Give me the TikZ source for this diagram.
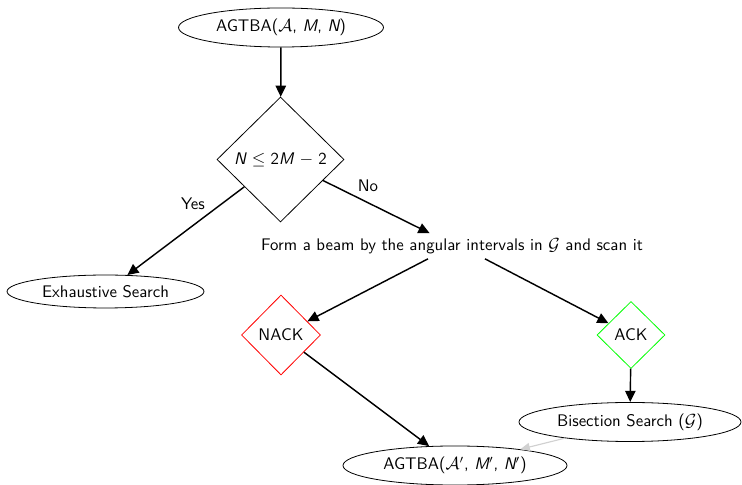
\documentclass[tikz,border=0pt]{standalone}
\usetikzlibrary{shapes.geometric,arrows.meta}

% sans-serif slanted letters for the variables
\newcommand{\sv}[1]{{\itshape #1}}

\tikzset{
  every node/.style={font=\sffamily\fontsize{10.5}{12.6}\selectfont},
  oval/.style={ellipse, draw, line width=0.5pt, inner sep=0pt},
  choice/.style={diamond, draw, line width=0.5pt, inner sep=0pt},
  flow/.style={line width=0.9pt, -{Triangle[length=7pt,width=6.5pt]}},
  faint/.style={flow, draw=black!18, line width=0.7pt, -{Triangle[length=6pt,width=5pt,fill=black!18]}},
}

\begin{document}
\begin{tikzpicture}[x=0.625pt, y=-0.625pt]
  \useasboundingbox (0,0) rectangle (742,485);

  % nodes
  \node[oval, minimum width=128.1pt, minimum height=24.4pt] (top) at (281,27.5) {AGTBA($\mathcal{A}$, \sv{M}, \sv{N})};
  \node[choice, minimum width=79.4pt, minimum height=78.1pt] (dia) at (280.5,159.5)
    {\sv{N}\hspace{3.6pt}$\leq$\hspace{3.2pt}2\sv{M}\hspace{3.8pt}$-$\hspace{3.2pt}2};
  \node[oval, minimum width=123.1pt, minimum height=20.6pt] (exh) at (105.5,291.5) {Exhaustive Search};
  \node[inner sep=3pt] (beam) at (452,246) {Form a beam by the angular intervals in $\mathcal{G}$ and scan it};
  \node[choice, draw=red, minimum width=49.4pt, minimum height=50pt] (nack) at (281,335) {NACK};
  \node[choice, draw=green, minimum width=42.5pt, minimum height=41.9pt] (ack) at (631,335) {ACK};
  \node[oval, minimum width=138.75pt, minimum height=24.4pt] (bis) at (630,422) {Bisection Search ($\mathcal{G}$)};
  \node[oval, minimum width=140pt, minimum height=24.4pt] (bot) at (455,465.5) {AGTBA($\mathcal{A}'$, \sv{M}$'$, \sv{N}$'$)};

  % branch labels
  \node (yes) at (193,204) {Yes};
  \node (no) at (368,186) {No};

  % connectors
  \draw[flow] (top) -- (dia);
  \draw[flow] (dia) -- ([xshift=-14pt]beam.north);
  \draw[flow] (dia) -- (exh);
  \draw[flow] ([xshift=-15pt]beam.south) -- (nack);
  \draw[flow] ([xshift=20.6pt]beam.south) -- (ack);
  \draw[flow] (ack) -- (bis);
  \draw[flow] (nack) -- (bot);
  \draw[faint] (bis) -- (bot);
\end{tikzpicture}
\end{document}
